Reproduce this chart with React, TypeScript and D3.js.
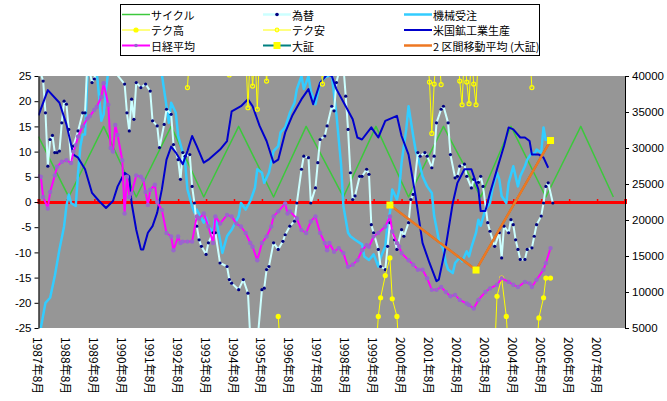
import { useEffect, useRef } from 'react';
import * as d3 from 'd3';

// x values are months counted from 1987年8月 (= 0); null = no data
type Pt = [number, number | null];

const xLabels = [
  '1987年8月', '1988年8月', '1989年8月', '1990年8月', '1991年8月', '1992年8月', '1993年8月',
  '1994年8月', '1995年8月', '1996年8月', '1997年8月', '1998年8月', '1999年8月', '2000年8月',
  '2001年8月', '2002年8月', '2003年8月', '2004年8月', '2005年8月', '2006年8月', '2007年8月',
];
const leftTicks = [25, 20, 15, 10, 5, 0, -5, -10, -15, -20, -25];
const rightTicks = [40000, 35000, 30000, 25000, 20000, 15000, 10000, 5000];

const legendNames = [
  'サイクル', '為替', '機械受注',
  'テク高', 'テク安', '米国鉱工業生産',
  '日経平均', '大証', '2 区間移動平均 (大証)',
];

// サイクル (turning points)
const cycle: Pt[] = [
  [0, 13], [13, 1], [28, 15], [42, 1], [57, 15], [71, 1], [86, 15], [101, 1], [115, 15],
  [131, 1], [145, 15], [159, 1], [174, 15], [190, 1], [203, 15], [218, 1], [233, 15], [247, 1],
];

// 為替
const fx: Pt[] = [
  [0, 27], [2, 24.0], [3, 17.7], [4, 7.1], [5, 12.4], [6, 13.2], [7, 9.8], [8, 9.8], [9, 10.1],
  [10, 15.7], [11, 20.0], [12, 19.4], [13, 14.4], [14, 7.8], [15, 11.1], [17, 14.1], [19, 17.7],
  [20, 17.7], [21, 28], [23, 23.7], [24, 24.4], [26, 30], [30, 29], [33, 25.7], [37, 23.4],
  [38, 17.7], [39, 14.1], [40, 20.4], [41, 16.4], [42, 23.7], [44, 22.7], [46, 23.4], [48, 22.0],
  [49, 16.1], [51, 15.1], [52, 10.8], [54, 15.4], [55, 18.4], [57, 17.4], [58, 11.4], [60, 8.4],
  [61, 4.5], [62, 9.8], [63, 9.1], [65, 9.4], [66, 3.1], [67, -0.2], [68, -4.8], [69, -7.5],
  [70, -8.8], [72, -10.4], [73, -8.1], [75, -6.1], [76, -6.1], [78, -12.1], [81, -12.8],
  [82, -15.4], [83, -16.1], [86, -17.4], [88, -15.4], [90, -18.1], [91, -27], [94, -28],
  [96, -17.4], [97, -17.1], [98, -13.4], [99, -12.8], [101, -8.1], [103, -9.4], [105, -7.8],
  [106, -6.5], [108, -4.8], [110, -3.8], [111, -0.2], [113, 6.5], [114, 9.1], [116, 8.8],
  [117, -0.2], [119, 2.8], [120, 7.8], [121, 12.4], [123, 13.1], [124, 15.1], [126, 19.0],
  [127, 18.1], [128, 23.7], [130, 27.5], [131, 27], [132, 21.0], [133, 14.4], [134, 5.8],
  [135, 0.5], [136, 1.2], [138, 5.1], [139, 5.1], [141, 6.5], [142, 5.5], [143, -4.5],
  [144, -6.1], [146, -9.4], [147, -12.8], [149, -13.4], [150, -8.8], [151, -4.1], [153, -7.5],
  [154, -9.4], [156, -5.5], [157, -6.8], [159, -4.1], [160, 0.5], [161, 1.5], [163, 9.8],
  [164, 9.1], [166, 9.8], [167, 9.1], [169, 6.8], [170, 9.1], [171, 15.7], [173, 18.4],
  [174, 19.0], [176, 15.7], [177, 9.4], [179, 4.8], [180, 5.1], [181, 7.1], [183, 7.5],
  [184, 5.1], [186, 2.8], [187, 4.5], [189, 3.9], [190, 5.1], [191, 3.1], [193, -4.1],
  [194, -5.8], [196, -8.8], [198, -6.1], [199, -11.1], [200, -4.8], [202, -6.1], [203, -3.5],
  [204, -4.5], [205, -7.5], [206, -9.4], [207, -11.4], [209, -11.4], [210, -9.4], [212, -9.1],
  [213, -6.8], [214, -4.5], [216, -2.8], [217, -0.2], [218, 3.1], [219, 3.8], [221, -0.2],
];

// 機械受注
const machine: Pt[] = [
  [0, -27], [1, -25], [3, -20.0], [5, -19.0], [7, -14.7], [9, -9.4], [11, -4.8], [12, -0.8],
  [13, 1.5], [14, -0.2], [16, -0.8], [17, 5.8], [18, 11.1], [19, 13.4], [20, 13.4], [21, 25.1],
  [23, 28], [25, 26], [27, 16.1], [28, 17.4], [29, 22.4], [30, 26], [35, 28], [43, 28], [50, 27],
  [53, 25.3], [55, 19.0], [56, 15.7], [57, 19.7], [59, 17.7], [60, 13.1], [62, 9.8], [63, 7.9],
  [64, 2.5], [66, -0.8], [67, -2.1], [68, -1.5], [71, -4.1], [72, -3.1], [73, -4.8], [75, -6.1],
  [76, -2.8], [78, -7.5], [79, -10.1], [81, -6.8], [82, -6.1], [83, -5.5], [86, -2.8], [87, -0.2],
  [89, -1.5], [91, 0.2], [93, 2.8], [94, 6.5], [96, 5.8], [97, 3.8], [99, 5.8], [101, 10.1],
  [103, 11.1], [104, 13.8], [106, 14.8], [108, 17.7], [110, 19.7], [111, 22.4], [113, 25.0],
  [114, 22.4], [116, 25.0], [117, 22.0], [119, 19.4], [121, 23.7], [123, 24.7], [126, 25.3],
  [128, 17.4], [130, 7.5], [131, -0.8], [133, -6.1], [134, -6.8], [136, -7.5], [139, -8.4],
  [140, -10.8], [142, -11.5], [144, -10.4], [146, -12.8], [147, -11], [149, -8.8], [150, -4.1],
  [151, -2.1], [152, 2.5], [154, 0.5], [155, 2.5], [156, 7.8], [158, 14.4], [159, 19.0],
  [161, 13.1], [162, 10.4], [164, 7.1], [165, 5.1], [167, 3.1], [169, 1.8], [170, -2.8],
  [172, -7.5], [174, -9.4], [175, -12.1], [176, -13.4], [178, -14.1], [179, -12.1], [181, -11],
  [182, -11.8], [184, -9.8], [185, -10.8], [186, -9], [188, -6.1], [189, -3.5], [190, -4.7],
  [192, -1.5], [194, -0.2], [195, 2.5], [197, 5.8], [198, 4.5], [199, 1.2], [201, -0.2],
  [202, 3.8], [204, 7.1], [206, 3.1], [207, 5.1], [209, 7.1], [210, 8.4], [212, 9.8], [213, 9.4],
  [214, 10.4], [216, 9.8], [217, 14.8], [218, 12.1],
];

// 米国鉱工業生産
const usIndustry: Pt[] = [
  [0, 17.2], [4, 22.2], [9, 19.7], [12, 15.4], [15, 9.4], [17, 8.8], [20, 6.5], [23, 1.8],
  [26, 0.2], [29, -1.2], [32, 0.2], [34, 3.1], [37, 5.8], [39, 5.1], [40, -0.2], [42, -5.5],
  [44, -9.4], [45, -9.4], [47, -6.1], [49, -4.8], [51, -2.1], [53, 2.5], [55, 8.4], [57, 11],
  [59, 9.8], [62, 7.5], [64, 10.1], [66, 13.1], [68, 11.1], [71, 7.8], [73, 8.4], [78, 10.4],
  [81, 12.1], [83, 18], [87, 19], [90, 20.4], [92, 19], [95, 15.1], [98, 12.1], [101, 7.8],
  [103, 8.4], [106, 13.8], [109, 17.1], [113, 20.4], [116, 22.4], [118, 19.4], [121, 23.7],
  [124, 25.3], [126, 25], [128, 22.4], [132, 19], [135, 16.4], [137, 12.8], [139, 12.4],
  [143, 14.8], [146, 12.8], [149, 16.1], [154, 17.1], [156, 13.1], [159, 9.4], [162, 1.2],
  [165, -8.1], [168, -12.1], [171, -15.7], [172, -15.4], [175, -8.8], [178, -0.2], [180, 3.8],
  [183, 6.5], [186, 6.5], [189, 2.5], [190, -1.8], [192, -1.8], [194, 1.8], [197, 6.5],
  [200, 11.1], [202, 14.8], [204, 14.4], [207, 12.8], [209, 12.8], [211, 12.1], [212, 9.4],
  [215, 9.4], [217, 8.8], [219, 6.8],
];

// 日経平均 (right axis)
const nikkei: Pt[] = [
  [0, 26100], [1, 26000], [2, 23200], [4, 21600], [5, 23900], [7, 26200], [8, 27400], [10, 28100],
  [12, 28300], [14, 27900], [15, 29500], [16, 30400], [17, 31600], [19, 33000], [21, 34100],
  [22, 34400], [24, 35300], [25, 35700], [27, 37100], [28, 39000], [30, 36000], [31, 30000],
  [32, 29500], [33, 33200], [34, 31800], [36, 28300], [37, 20900], [38, 26000], [39, 23200],
  [40, 23700], [42, 26200], [44, 26000], [45, 25600], [46, 23900], [47, 22100], [48, 24200],
  [50, 24900], [51, 22500], [53, 21400], [55, 18200], [57, 17700], [58, 15800], [60, 17700],
  [61, 16800], [62, 17000], [64, 17000], [66, 17000], [68, 20500], [69, 20200], [71, 20900],
  [73, 19100], [75, 16800], [76, 20500], [78, 19500], [81, 20700], [83, 20500], [85, 19500],
  [87, 19100], [89, 18200], [91, 16800], [92, 16300], [94, 14400], [96, 16800], [98, 17700],
  [100, 19100], [101, 20500], [103, 21200], [106, 22300], [107, 20900], [108, 21200],
  [111, 20200], [113, 18600], [115, 18200], [117, 19800], [119, 20500], [121, 18200],
  [123, 16800], [124, 15800], [125, 16800], [127, 15600], [129, 16100], [131, 15400],
  [133, 13500], [135, 13800], [137, 14400], [139, 15800], [141, 16500], [142, 16300],
  [144, 17700], [146, 18200], [149, 19100], [151, 20500], [152, 18400], [154, 16800],
  [155, 16300], [156, 15400], [159, 14400], [161, 13800], [163, 13100], [165, 13100],
  [167, 11900], [169, 10300], [171, 10300], [173, 10700], [175, 10000], [177, 9400], [179, 9600],
  [181, 8900], [184, 8400], [185, 8200], [187, 7700], [189, 8900], [192, 10000], [194, 10500],
  [197, 11000], [199, 11900], [202, 11400], [204, 11000], [206, 10700], [209, 11400],
  [211, 11200], [212, 10700], [214, 11700], [217, 13100], [218, 14000], [220, 16100],
];

// テク高 (bottom clusters)
const tekuHigh: Pt[] = [
  [103, -22.7], [104, -30], [105, null],
  [145, -30], [146, -22.7], [147, -19], [149, -14.6], [151, -11.1], [152, -19.2], [154, -22.7],
  [155, -30], [156, null],
  [196, -30], [197, -18.7], [199, -15.1], [201, -22.7], [202, -30], [203, null],
  [214, -30], [215, -23], [217, -19], [218, -15.1], [220, -15.1],
];

// テク安 (top clusters)
const tekuLow: Pt[] = [
  [64, 22.7], [65, 30], [66, null],
  [82, 25.2], [83, 30], [84, null],
  [89, 30], [90, 18.7], [91, 30], [92, 23], [93, 30], [94, 18.4], [95, 30], [96, null],
  [97, 30], [98, 24], [99, 30], [100, null],
  [121, 30], [122, 23.4], [123, 30], [124, null],
  [167, 30], [168, 23.8], [169, 13.6], [170, 23.4], [171, 30], [172, 30], [173, 23.3], [174, null],
  [180, 30], [181, 24], [182, 19.3], [183, 30], [184, 23.8], [185, 19.5], [186, 30], [187, 23.4],
  [188, 19.3], [189, 30], [190, null],
  [211, 30], [212, 22.7],
];

// 大証
const daisho: Pt[] = [[151, -0.6], [188, -13.5], [220, 12.2]];

const FONT = '"Liberation Sans", Arial, "Noto Sans CJK JP", sans-serif';
const JP = '"Noto Sans CJK JP", "Liberation Sans", sans-serif';

export default function App() {
  const svgRef = useRef<SVGSVGElement>(null);

  useEffect(() => {
    if (!svgRef.current) return;
    const svg = d3.select(svgRef.current);
    svg.selectAll('*').remove();

    const left = 38.5;
    const right = 625;
    const top = 76;
    const bottom = 328;

    const x = d3.scaleLinear().domain([0, 252]).range([left, right]);
    const yL = d3.scaleLinear().domain([-25, 25]).range([bottom, top]);
    const yR = d3.scaleLinear().domain([5000, 40000]).range([bottom, top]);

    svg.append('rect')
      .attr('x', left).attr('y', top)
      .attr('width', right - left).attr('height', bottom - top)
      .attr('fill', '#969696');

    svg.append('defs').append('clipPath').attr('id', 'plotClip')
      .append('rect')
      .attr('x', left).attr('y', top)
      .attr('width', right - left).attr('height', bottom - top);

    const valid = (d: Pt) => d[1] !== null;
    const lineL = d3.line<Pt>().defined(valid).x((d) => x(d[0])).y((d) => yL(d[1] as number));
    const lineR = d3.line<Pt>().defined(valid).x((d) => x(d[0])).y((d) => yR(d[1] as number));

    // red zero axis with upward ticks
    const zero = svg.append('g').attr('transform', `translate(0,${yL(0)})`);
    zero.call(
      d3.axisTop(x)
        .tickValues(xLabels.map((_, i) => i * 12))
        .tickSize(3)
        .tickSizeOuter(3)
        .tickFormat(() => '') as never
    );
    zero.select('.domain').attr('stroke', '#FF0000').attr('stroke-width', 3);
    zero.selectAll('.tick line').attr('stroke', '#FF0000').attr('stroke-width', 1.5);

    const plot = svg.append('g').attr('clip-path', 'url(#plotClip)');

    const drawLine = (data: Pt[], gen: d3.Line<Pt>, color: string, width: number) =>
      plot.append('path')
        .datum(data)
        .attr('d', gen)
        .attr('fill', 'none')
        .attr('stroke', color)
        .attr('stroke-width', width)
        .attr('stroke-linejoin', 'round');

    const pts = (data: Pt[]) => data.filter(valid);

    drawLine(cycle, lineL, '#3CC83C', 1.5);
    drawLine(machine, lineL, '#33CCFF', 2.5);

    drawLine(fx, lineL, '#CCFFFF', 2);
    plot.append('g').selectAll('circle').data(pts(fx)).join('circle')
      .attr('cx', (d) => x(d[0])).attr('cy', (d) => yL(d[1] as number))
      .attr('r', 1.6).attr('fill', '#000080');

    drawLine(usIndustry, lineL, '#0000CC', 2);

    drawLine(tekuLow, lineL, '#FFFF00', 1);
    plot.append('g').selectAll('circle').data(pts(tekuLow).filter((d) => (d[1] as number) < 26)).join('circle')
      .attr('cx', (d) => x(d[0])).attr('cy', (d) => yL(d[1] as number))
      .attr('r', 2).attr('fill', 'none').attr('stroke', '#FFFF00').attr('stroke-width', 1.2);

    drawLine(tekuHigh, lineL, '#FFFF00', 1);
    plot.append('g').selectAll('circle').data(pts(tekuHigh).filter((d) => (d[1] as number) > -26)).join('circle')
      .attr('cx', (d) => x(d[0])).attr('cy', (d) => yL(d[1] as number))
      .attr('r', 2.6).attr('fill', '#FFFF00');

    drawLine(nikkei, lineR, '#FF00FF', 2);
    plot.append('g').selectAll('circle').data(pts(nikkei)).join('circle')
      .attr('cx', (d) => x(d[0])).attr('cy', (d) => yR(d[1] as number))
      .attr('r', 2.2).attr('fill', '#9966CC');

    drawLine(daisho, lineL, '#008080', 2);
    drawLine(daisho, lineL, '#EE7722', 2.5);
    plot.append('g').selectAll('rect').data(daisho).join('rect')
      .attr('x', (d) => x(d[0]) - 3.5).attr('y', (d) => yL(d[1] as number) - 3.5)
      .attr('width', 7).attr('height', 7).attr('fill', '#FFFF00');

    // left axis
    const gl = svg.append('g').attr('transform', `translate(${left},0)`);
    gl.call(
      d3.axisLeft(yL).tickValues(leftTicks).tickSize(4).tickSizeOuter(0)
        .tickFormat((d) => String(d)) as never
    );
    gl.selectAll('text').style('font-size', '11.5px').style('font-family', FONT).attr('fill', '#000');
    gl.selectAll('.domain, .tick line').attr('stroke', '#000');

    // right axis
    const gr = svg.append('g').attr('transform', `translate(${right},0)`);
    gr.call(
      d3.axisRight(yR).tickValues(rightTicks).tickSize(4).tickSizeOuter(0)
        .tickFormat((d) => String(d)) as never
    );
    gr.selectAll('text').style('font-size', '11.5px').style('font-family', FONT).attr('fill', '#000');
    gr.selectAll('.domain, .tick line').attr('stroke', '#000');

    // category labels (rotated)
    svg.append('g').selectAll('text').data(xLabels).join('text')
      .attr('transform', (_, i) => `translate(${x(i * 12)},337) rotate(90)`)
      .attr('dominant-baseline', 'central')
      .attr('text-anchor', 'start')
      .style('font-size', '12px')
      .style('font-family', JP)
      .text((d) => d);

    // legend
    const lg = svg.append('g');
    lg.append('rect')
      .attr('x', 120.5).attr('y', 4.5).attr('width', 419).attr('height', 51)
      .attr('fill', '#fff').attr('stroke', '#000').attr('stroke-width', 1);
    const colX = [122, 263, 404];
    const rowY = [14.5, 30, 45.5];
    const styles = [
      { c: '#3CC83C', w: 1.5 }, { c: '#CCFFFF', w: 2.5, dot: '#000080' }, { c: '#33CCFF', w: 2.5 },
      { c: '#FFFF00', w: 1, big: true }, { c: '#FFFF00', w: 1, ring: true }, { c: '#0000CC', w: 2 },
      { c: '#FF00FF', w: 2, dot: '#9966CC' }, { c: '#008080', w: 2, square: true }, { c: '#EE7722', w: 2.5 },
    ];
    legendNames.forEach((name, i) => {
      const cx = colX[i % 3];
      const cy = rowY[Math.floor(i / 3)];
      const s = styles[i] as { c: string; w: number; dot?: string; big?: boolean; ring?: boolean; square?: boolean };
      const g = lg.append('g');
      g.append('line').attr('x1', cx).attr('x2', cx + 28).attr('y1', cy).attr('y2', cy)
        .attr('stroke', s.c).attr('stroke-width', s.w);
      const mx = cx + 14;
      if (s.dot) g.append('circle').attr('cx', mx).attr('cy', cy).attr('r', 1.8).attr('fill', s.dot);
      if (s.big) g.append('circle').attr('cx', mx).attr('cy', cy).attr('r', 2.6).attr('fill', '#FFFF00');
      if (s.ring) g.append('circle').attr('cx', mx).attr('cy', cy).attr('r', 1.8)
        .attr('fill', 'none').attr('stroke', '#FFFF00').attr('stroke-width', 1.2);
      if (s.square) g.append('rect').attr('x', mx - 3.5).attr('y', cy - 3.5).attr('width', 7).attr('height', 7)
        .attr('fill', '#FFFF00');
      g.append('text').attr('x', cx + 29).attr('y', cy)
        .attr('dominant-baseline', 'central')
        .style('font-size', '11px').style('font-family', JP)
        .text(name);
    });
  }, []);

  return (
    <svg
      ref={svgRef}
      width={667}
      height={401}
      style={{ position: 'absolute', left: 0, top: 0, background: '#fff' }}
    />
  );
}
